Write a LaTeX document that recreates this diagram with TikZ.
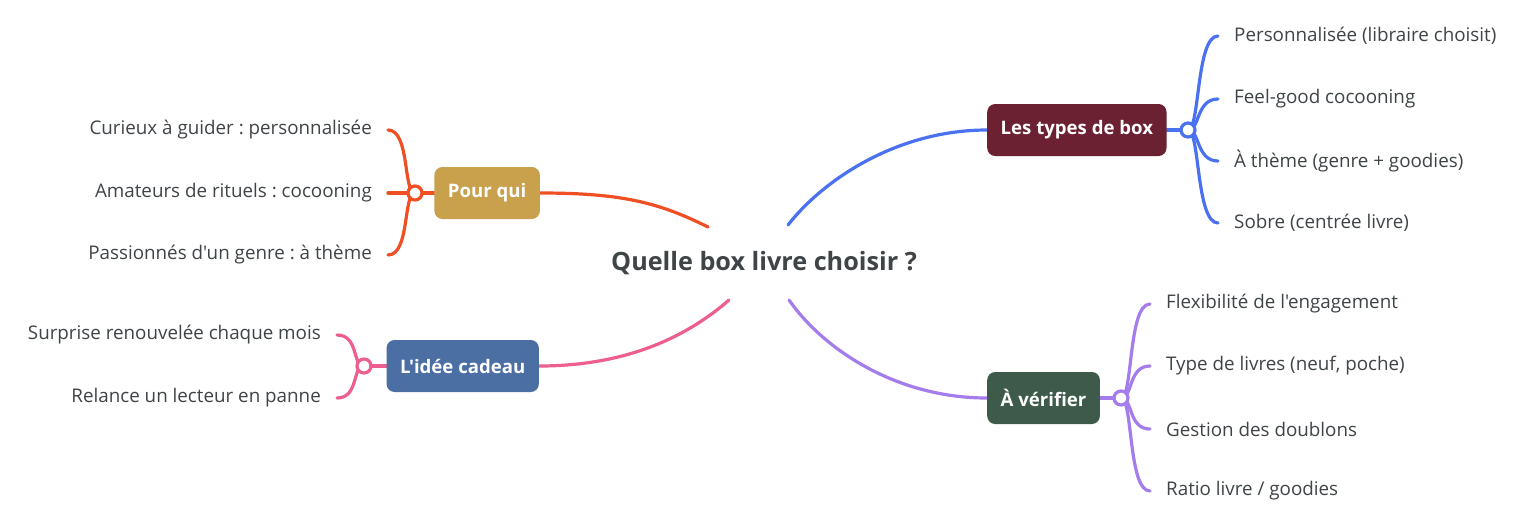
\documentclass[tikz,border=0pt]{standalone}
\usepackage{fontspec}
\setmainfont{Open Sans}[Ligatures=TeXOff]
\usetikzlibrary{backgrounds}

\definecolor{cblue}{HTML}{4A72F0}
\definecolor{cred}{HTML}{F04E23}
\definecolor{cpink}{HTML}{EC5F8F}
\definecolor{cpurple}{HTML}{A47CEB}
\definecolor{boxmaroon}{HTML}{6B2131}
\definecolor{boxgold}{HTML}{C9A04B}
\definecolor{boxblue}{HTML}{4B6EA3}
\definecolor{boxgreen}{HTML}{3D5A4B}
\definecolor{leafgray}{HTML}{3F4447}

\frenchspacing
\begin{document}
\begin{tikzpicture}[x=1pt,y=-1pt,
    branch/.style={line width=3.2pt, line cap=round},
    topic/.style={rounded corners=8pt, minimum height=52pt, inner xsep=13.5pt,
        text=white, font=\fontsize{18.6}{22}\selectfont\bfseries},
    leaf/.style={inner xsep=16pt, inner ysep=2pt, text=leafgray,
        font=\fontsize{18.8}{22}\selectfont},
    knot/.style={circle, draw, fill=white, line width=3.2pt, minimum size=14pt, inner sep=0pt}]
    \useasboundingbox (0,0) rectangle (1525,531);

    % 中心主题
    \node[font=\fontsize{25.2}{28}\selectfont\bfseries, text=leafgray] (root) at (764,263) {Quelle box livre choisir ?};
    \coordinate (cb) at (788,225);
    \coordinate (cr) at (708,227);
    \coordinate (cp) at (729,300);
    \coordinate (cv) at (789,300);

    % 分支主题
    \node[topic, fill=boxmaroon, anchor=west] (t1) at (987,130) {Les types de box};
    \node[topic, fill=boxgold, anchor=east] (t2) at (540,193) {Pour qui};
    \node[topic, fill=boxblue, anchor=east] (t3) at (539,366) {L'idée cadeau};
    \node[topic, fill=boxgreen, anchor=west] (t4) at (987,398) {À vérifier};

    \node[knot, draw=cblue] (k1) at (1188,130) {};
    \node[knot, draw=cred] (k2) at (415,193) {};
    \node[knot, draw=cpink] (k3) at (364,366) {};
    \node[knot, draw=cpurple] (k4) at (1121,398) {};

    % 叶子
    \node[leaf, anchor=west] (b1) at (1218,36) {Personnalisée (libraire choisit)};
    \node[leaf, anchor=west] (b2) at (1218,99) {Feel-good cocooning};
    \node[leaf, anchor=west] (b3) at (1218,161) {À thème (genre + goodies)};
    \node[leaf, anchor=west] (b4) at (1218,223) {Sobre (centrée livre)};

    \node[leaf, anchor=east] (a1) at (388,130) {Curieux à guider : personnalisée};
    \node[leaf, anchor=east] (a2) at (388,193) {Amateurs de rituels : cocooning};
    \node[leaf, anchor=east] (a3) at (388,255) {Passionnés d'un genre : à thème};

    \node[leaf, anchor=east] (c1) at (337,335) {Surprise renouvelée chaque mois};
    \node[leaf, anchor=east] (c2) at (337,398) {Relance un lecteur en panne};

    \node[leaf, anchor=west] (d1) at (1150,304) {Flexibilité de l'engagement};
    \node[leaf, anchor=west] (d2) at (1150,366) {Type de livres (neuf, poche)};
    \node[leaf, anchor=west] (d3) at (1150,429) {Gestion des doublons};
    \node[leaf, anchor=west] (d4) at (1150,491) {Ratio livre / goodies};

    % 连线
    \begin{scope}[on background layer]
        \fill[white] (0,0) rectangle (1525,531);
        \draw[branch, cblue] (cb) .. controls +(35,-45) and +(-90,0) .. (t1.west);
        \draw[branch, cblue] (t1.east) -- (k1.center);
        \foreach \n in {b1,b2,b3,b4}
            \draw[branch, cblue] (k1.center) .. controls +(12,0) and +(-22,0) .. (\n.west);

        \draw[branch, cred] (cr) .. controls +(-50,-25) and +(80,0) .. (t2.east);
        \draw[branch, cred] (t2.west) -- (k2.center);
        \foreach \n in {a1,a2,a3}
            \draw[branch, cred] (k2.center) .. controls +(-12,0) and +(22,0) .. (\n.east);

        \draw[branch, cpink] (cp) .. controls +(-40,35) and +(90,0) .. (t3.east);
        \draw[branch, cpink] (t3.west) -- (k3.center);
        \foreach \n in {c1,c2}
            \draw[branch, cpink] (k3.center) .. controls +(-12,0) and +(22,0) .. (\n.east);

        \draw[branch, cpurple] (cv) .. controls +(35,50) and +(-90,0) .. (t4.west);
        \draw[branch, cpurple] (t4.east) -- (k4.center);
        \foreach \n in {d1,d2,d3,d4}
            \draw[branch, cpurple] (k4.center) .. controls +(12,0) and +(-22,0) .. (\n.west);
    \end{scope}
\end{tikzpicture}
\end{document}
